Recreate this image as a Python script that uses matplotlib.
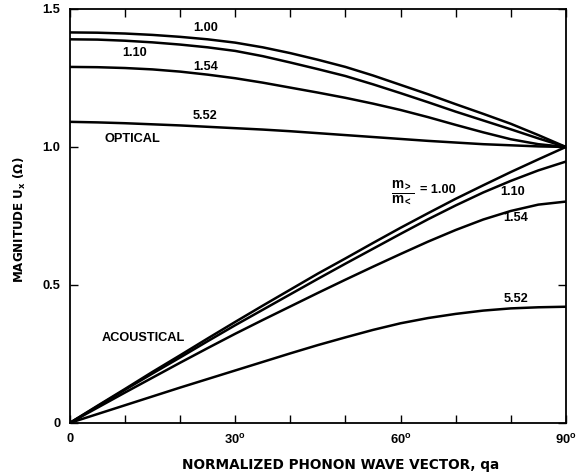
import matplotlib
matplotlib.use('Agg')
import matplotlib.pyplot as plt

plt.rcParams['font.family'] = ['Liberation Sans', 'DejaVu Sans']
plt.rcParams['font.weight'] = 'bold'
plt.rcParams['mathtext.fontset'] = 'custom'
plt.rcParams['mathtext.rm'] = 'Liberation Sans:bold'
plt.rcParams['mathtext.it'] = 'Liberation Sans:bold'

# phonon wave vector qa, degrees
qa = [0, 5, 10, 15, 20, 25, 30, 35, 40, 45, 50, 55, 60, 65, 70, 75, 80, 85, 90]

# optical branch, one curve per mass ratio m>/m<
opt_100 = [1.415, 1.414, 1.411, 1.406, 1.399, 1.390, 1.378, 1.361, 1.340, 1.316,
           1.290, 1.259, 1.225, 1.191, 1.155, 1.120, 1.084, 1.043, 1.0]
opt_110 = [1.390, 1.389, 1.385, 1.379, 1.371, 1.361, 1.348, 1.329, 1.306, 1.282,
           1.257, 1.227, 1.195, 1.162, 1.128, 1.096, 1.064, 1.031, 1.0]
opt_154 = [1.290, 1.289, 1.286, 1.281, 1.273, 1.262, 1.249, 1.233, 1.215, 1.197,
           1.178, 1.157, 1.134, 1.108, 1.080, 1.053, 1.028, 1.010, 1.0]
opt_552 = [1.091, 1.089, 1.086, 1.082, 1.078, 1.073, 1.068, 1.063, 1.057, 1.050,
           1.043, 1.036, 1.029, 1.022, 1.016, 1.010, 1.006, 1.002, 1.0]

# acoustical branch
ac_100 = [0, 0.062, 0.123, 0.185, 0.245, 0.306, 0.366, 0.425, 0.483, 0.541,
          0.596, 0.652, 0.707, 0.760, 0.812, 0.861, 0.909, 0.955, 1.0]
ac_110 = [0, 0.060, 0.120, 0.179, 0.237, 0.296, 0.354, 0.410, 0.466, 0.522,
          0.577, 0.631, 0.685, 0.738, 0.788, 0.835, 0.877, 0.915, 0.947]
ac_154 = [0, 0.055, 0.110, 0.164, 0.218, 0.271, 0.323, 0.373, 0.422, 0.471,
          0.519, 0.566, 0.612, 0.657, 0.699, 0.737, 0.768, 0.791, 0.802]
ac_552 = [0, 0.032, 0.064, 0.096, 0.128, 0.159, 0.190, 0.221, 0.252, 0.282,
          0.310, 0.337, 0.361, 0.380, 0.395, 0.407, 0.415, 0.419, 0.421]

xticks = [0, 10, 20, 30, 40, 50, 60, 70, 80, 90]
xticklabels = ['0', '', '', '30$^{\\mathregular{o}}$', '', '',
               '60$^{\\mathregular{o}}$', '', '', '90$^{\\mathregular{o}}$']
yticks = [0, 0.5, 1.0, 1.5]
yticklabels = ['0', '0.5', '1.0', '1.5']

fig = plt.figure(figsize=(5.87, 4.72), dpi=100)
ax = fig.add_axes([0.119, 0.104, 0.845, 0.877])

for ys in [opt_100, opt_110, opt_154, opt_552, ac_100, ac_110, ac_154, ac_552]:
    ax.plot(qa, ys, '-', color='black', lw=1.8)

ax.set_xlim(0, 90)
ax.set_ylim(0, 1.5)
ax.set_xticks(xticks)
ax.set_xticklabels(xticklabels)
ax.set_yticks(yticks)
ax.set_yticklabels(yticklabels)
ax.tick_params(direction='in', length=6, width=1.0, top=True, right=True,
               labelsize=9.3, pad=7)
for s in ax.spines.values():
    s.set_linewidth(1.3)

ax.set_xlabel('NORMALIZED PHONON WAVE VECTOR, qa', fontsize=9.8,
              family='DejaVu Sans', fontweight='bold')
ax.xaxis.set_label_coords(0.546, -0.085)
ax.set_ylabel('MAGNITUDE U$_{\\mathregular{x}}$ (\u03a9)', fontsize=8.6,
              family='DejaVu Sans', fontweight='bold')
ax.yaxis.set_label_coords(-0.084, 0.49)

fs = 9.2
ax.text(24.6, 1.43, '1.00', fontsize=fs, ha='center', va='center')
ax.text(11.8, 1.34, '1.10', fontsize=fs, ha='center', va='center')
ax.text(24.6, 1.29, '1.54', fontsize=fs, ha='center', va='center')
ax.text(24.6, 1.112, '5.52', fontsize=fs, ha='center', va='center')
ax.text(6.3, 1.029, 'OPTICAL', fontsize=fs, ha='left', va='center')
ax.text(5.8, 0.308, 'ACOUSTICAL', fontsize=fs, ha='left', va='center')
ax.text(60.5, 0.836, '$\\frac{\\mathregular{m}_{>}}{\\mathregular{m}_{<}}$',
        fontsize=14, ha='center', va='center')
ax.text(63.6, 0.843, '= 1.00', fontsize=fs, ha='left', va='center')
ax.text(80.3, 0.837, '1.10', fontsize=fs, ha='center', va='center')
ax.text(80.9, 0.742, '1.54', fontsize=fs, ha='center', va='center')
ax.text(80.9, 0.450, '5.52', fontsize=fs, ha='center', va='center')

fig.savefig('out.png', dpi=100)
